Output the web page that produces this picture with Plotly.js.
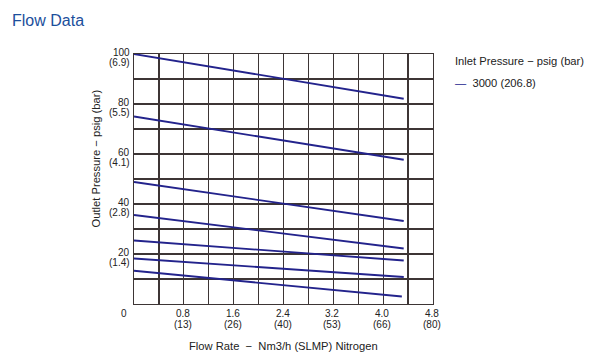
<!DOCTYPE html>
<html>
<head>
<meta charset="utf-8">
<script src="https://cdn.plot.ly/plotly-3.0.1.min.js"></script>
<style>html,body{margin:0;padding:0;background:#fff;}#chart{width:607px;height:362px;}</style>
</head>
<body>
<div id="chart"></div>
<script>
// Flow rate (Nm3/h) at start and end of each curve
var flowStart = [0, 0, 0, 0, 0, 0, 0];
var flowEnd = [4.33, 4.33, 4.33, 4.33, 4.33, 4.33, 4.30];
// Outlet pressure (psig) at start and end of each curve
var pressStart = [100, 75, 48.8, 35.6, 25.4, 18.2, 13.3];
var pressEnd = [82.1, 57.7, 33.2, 22.2, 17.4, 10.8, 3.0];

// Tick labels: primary unit and bracketed secondary unit
var xTickVals = [0, 0.8, 1.6, 2.4, 3.2, 4.0, 4.8];
var xTickMain = ['0', '0.8', '1.6', '2.4', '3.2', '4.0', '4.8'];
var xTickSub = ['', '(13)', '(26)', '(40)', '(53)', '(66)', '(80)'];
var yTickVals = [20, 40, 60, 80, 100];
var yTickMain = ['20', '40', '60', '80', '100'];
var yTickSub = ['(1.4)', '(2.8)', '(4.1)', '(5.5)', '(6.9)'];

var legendTitle = 'Inlet Pressure \u2212 psig (bar)';
var legendEntry = '3000 (206.8)';
var xTitle = 'Flow Rate \u00a0\u2212\u00a0 Nm3/h (SLMP) Nitrogen';
var yTitle = 'Outlet Pressure \u2212 psig (bar)';

var lineColor = '#23238c';
var gridColor = '#3d3535';
var ff = 'Liberation Sans, Arial, sans-serif';
var tickFont = {family: ff, size: 10, color: '#222'};
var labFont = {family: ff, size: 11.2, color: '#222'};

var traces = [];
for (var i = 0; i < pressStart.length; i++) {
  traces.push({
    type: 'scatter', mode: 'lines',
    x: [flowStart[i], flowEnd[i]],
    y: [pressStart[i], pressEnd[i]],
    line: {color: lineColor, width: 1.8},
    showlegend: false, hoverinfo: 'skip'
  });
}

var ann = [];
for (var j = 0; j < xTickVals.length; j++) {
  ann.push({text: xTickMain[j], xref: 'x', yref: 'paper', x: xTickVals[j], y: 0,
    xanchor: 'center', yanchor: 'middle', yshift: -9.5, xshift: (j === 0 ? -10 : -1),
    showarrow: false, font: tickFont});
  if (xTickSub[j]) {
    ann.push({text: xTickSub[j], xref: 'x', yref: 'paper', x: xTickVals[j], y: 0,
      xanchor: 'center', yanchor: 'middle', yshift: -20, xshift: -1,
      showarrow: false, font: tickFont});
  }
}
for (var k = 0; k < yTickVals.length; k++) {
  ann.push({text: yTickMain[k], xref: 'paper', yref: 'y', x: 0, y: yTickVals[k],
    xanchor: 'right', yanchor: 'middle', xshift: -2.5, yshift: 1.5,
    showarrow: false, font: tickFont});
  ann.push({text: yTickSub[k], xref: 'paper', yref: 'y', x: 0, y: yTickVals[k],
    xanchor: 'right', yanchor: 'middle', xshift: -2, yshift: -8.5,
    showarrow: false, font: tickFont});
}
ann.push({text: yTitle, textangle: -90, xref: 'paper', yref: 'paper',
  x: (95 - 134) / 299, y: (304 - 158.5) / 250, xanchor: 'center', yanchor: 'middle',
  showarrow: false, font: labFont});
ann.push({text: xTitle, xref: 'paper', yref: 'paper',
  x: (283 - 134) / 299, y: (304 - 345.5) / 250, xanchor: 'center', yanchor: 'middle',
  showarrow: false, font: labFont});
ann.push({text: legendTitle, xref: 'paper', yref: 'paper',
  x: (453 - 134) / 299, y: (304 - 61) / 250, xanchor: 'left', yanchor: 'middle',
  showarrow: false, font: labFont});
ann.push({text: '<span style="color:' + lineColor + '">\u2014</span>\u00a0\u00a0' + legendEntry,
  xref: 'paper', yref: 'paper',
  x: (453 - 134) / 299, y: (304 - 83) / 250, xanchor: 'left', yanchor: 'middle',
  showarrow: false, font: labFont});

var layout = {
  width: 607, height: 362,
  margin: {l: 134, r: 174, t: 54, b: 58},
  paper_bgcolor: '#fff', plot_bgcolor: '#fff',
  showlegend: false,
  font: tickFont,
  title: {text: 'Flow Data', xref: 'container', yref: 'container', x: 12 / 607, xanchor: 'left',
          y: 1 - 20 / 362, yanchor: 'middle',
          font: {family: ff, size: 16, color: '#1c4f9c'}},
  xaxis: {
    range: [0, 4.8], tickmode: 'linear', tick0: 0, dtick: 0.4, showticklabels: false,
    showgrid: true, gridcolor: gridColor, gridwidth: 1.2,
    showline: true, linecolor: gridColor, linewidth: 1.2, mirror: true,
    ticks: '', zeroline: false
  },
  yaxis: {
    range: [0, 100], tickmode: 'linear', tick0: 0, dtick: 10, showticklabels: false,
    showgrid: true, gridcolor: gridColor, gridwidth: 1.2,
    showline: true, linecolor: gridColor, linewidth: 1.2, mirror: true,
    ticks: '', zeroline: false
  },
  annotations: ann
};

Plotly.newPlot('chart', traces, layout, {displayModeBar: false, staticPlot: true});
</script>
</body>
</html>
